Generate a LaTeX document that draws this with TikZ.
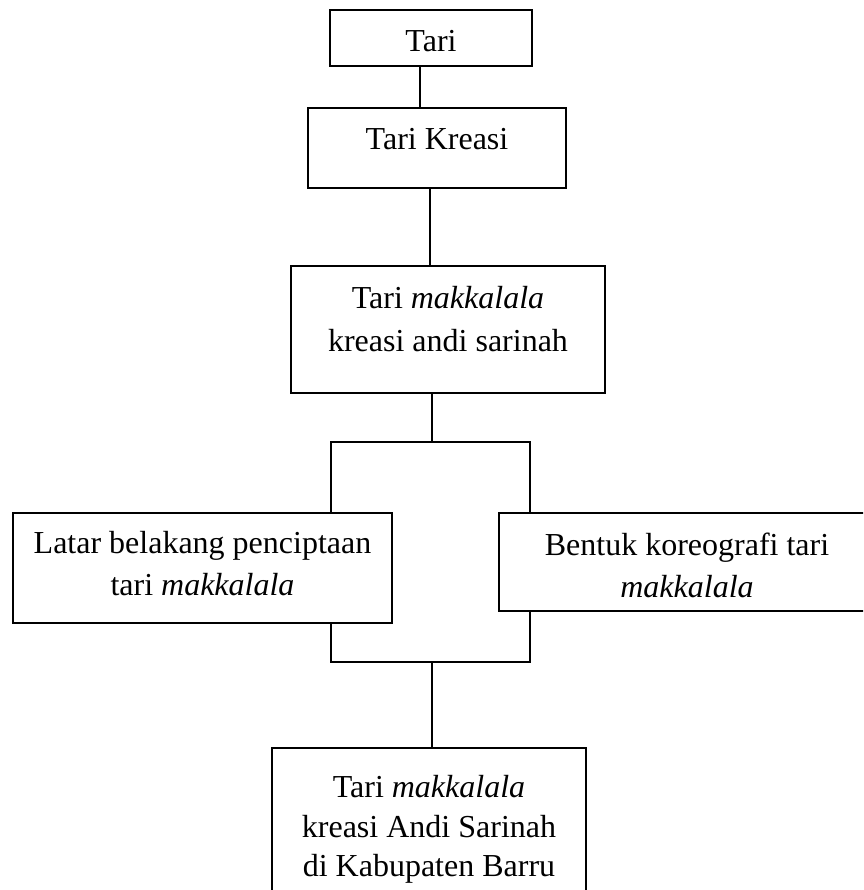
\documentclass[tikz,border=0pt]{standalone}
\usepackage{fontspec}
\setmainfont{Liberation Serif}
\usetikzlibrary{positioning}
\tikzset{
  box/.style={draw, line width=1.2pt, rectangle, inner sep=0pt},
  txt/.style={align=center, inner sep=0pt, font=\fontsize{32}{42.5}\selectfont},
  link/.style={line width=1.2pt}
}
\begin{document}
\begin{tikzpicture}[x=1pt, y=-1pt]
      \useasboundingbox (0, 0) rectangle (863, 890);
      \clip (0, 0) rectangle (863, 890);

      % boxes
      \node[box, minimum width=202, minimum height=56]  (tari)      at (431, 38)    {};
      \node[box, minimum width=258, minimum height=80]  (kreasi)    at (437, 148)   {};
      \node[box, minimum width=314, minimum height=127] (makkalala) at (448, 329.5) {};
      \node[box, minimum width=379, minimum height=110] (latar)     at (202.5, 568) {};
      \node[box, minimum width=376, minimum height=98]  (bentuk)    at (687, 562)   {};
      \node[box, minimum width=314, minimum height=157] (akhir)     at (429, 826.5) {};

      % texts
      \node[txt, below=21pt of tari.north]        (tari_t)      {Tari};
      \node[txt, below=20.5pt of kreasi.north]    (kreasi_t)    {Tari Kreasi};
      \node[txt, below=21pt of makkalala.north]   (makkalala_t) {Tari \textit{makkalala}\\kreasi andi sarinah};
      \node[txt, below=18.5pt of latar.north]     (latar_t)     {Latar belakang penciptaan\\tari \textit{makkalala}};
      \node[txt, below=20pt of bentuk.north]      (bentuk_t)    {Bentuk koreografi tari\\\textit{makkalala}};
      \node[txt, below=28pt of akhir.north, font=\fontsize{32}{39.5}\selectfont] (akhir_t)
            {Tari \textit{makkalala}\\kreasi Andi Sarinah\\di Kabupaten Barru};

      % branch points
      \coordinate (split)  at (432, 442);
      \coordinate (splitL) at (331, 442);
      \coordinate (splitR) at (530, 442);
      \coordinate (join)   at (432, 662);
      \coordinate (joinL)  at (331, 662);
      \coordinate (joinR)  at (530, 662);

      % lines
      \draw[link] ([xshift=-11pt]tari.south) -- ([xshift=-11pt]tari.south |- kreasi.north);
      \draw[link] ([xshift=-7pt]kreasi.south) -- ([xshift=-7pt]kreasi.south |- makkalala.north);
      \draw[link] (makkalala.south -| split) -- (split);
      \draw[link] (splitL |- latar.north) -- (splitL) -- (splitR) -- (splitR |- bentuk.north);
      \draw[link] (joinL |- latar.south) -- (joinL) -- (joinR) -- (joinR |- bentuk.south);
      \draw[link] (join) -- (join |- akhir.north);
    \end{tikzpicture}
\end{document}
